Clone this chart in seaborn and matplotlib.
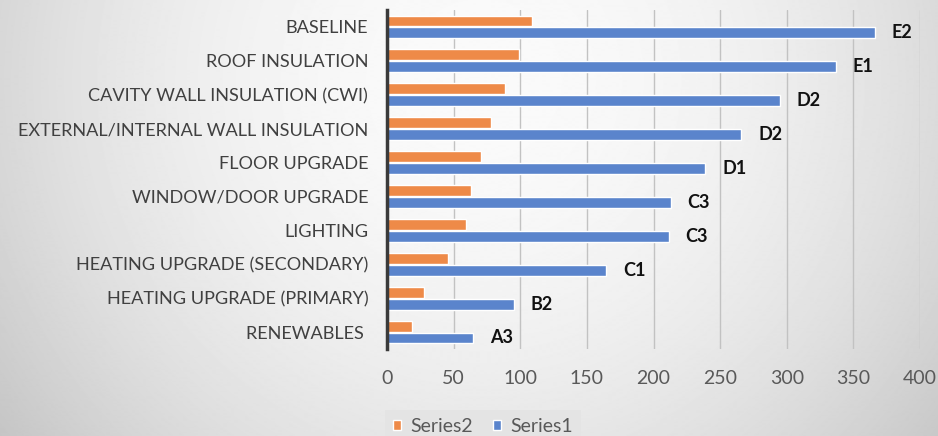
import numpy as np
import pandas as pd
import matplotlib
matplotlib.use("Agg")
import matplotlib.pyplot as plt
import seaborn as sns

# Retrofit measures (top to bottom) and their two series
categories = [
    "BASELINE",
    "ROOF INSULATION",
    "CAVITY WALL INSULATION (CWI)",
    "EXTERNAL/INTERNAL WALL INSULATION",
    "FLOOR UPGRADE",
    "WINDOW/DOOR UPGRADE",
    "LIGHTING",
    "HEATING UPGRADE (SECONDARY)",
    "HEATING UPGRADE (PRIMARY)",
    "RENEWABLES ",
]
series1 = [366, 337, 295, 266, 239, 213, 211.5, 164.5, 95, 64.6]
series2 = [108.7, 99.4, 88.7, 78.3, 70.8, 63, 59.6, 46, 28, 19]
ratings = ["E2", "E1", "D2", "D2", "D1", "C3", "C3", "C1", "B2", "A3"]
series_names = ["Series2", "Series1"]
x_ticks = [0, 50, 100, 150, 200, 250, 300, 350, 400]

df = pd.DataFrame({
    "measure": categories * 2,
    "value": series2 + series1,
    "series": [series_names[0]] * len(categories) + [series_names[1]] * len(categories),
})

sns.set_theme(style="white")
plt.rcParams["font.family"] = ["Lato", "DejaVu Sans"]

W, H = 938, 436
fig = plt.figure(figsize=(W / 100, H / 100), dpi=100)

# soft radial grey background
bg = fig.add_axes([0, 0, 1, 1], zorder=-10)
yy, xx = np.mgrid[0:H, 0:W]
d = np.hypot(xx - 480, yy - 80)
shade = 250 - 50 * np.clip(d / 580, 0, 1.2) ** 2
bg.imshow(shade, cmap="gray", vmin=0, vmax=255, aspect="auto",
          extent=[0, 1, 0, 1], interpolation="bilinear")
bg.axis("off")

ax = fig.add_axes([387 / W, 1 - 349 / H, (920 - 387) / W, (349 - 10) / H])
ax.patch.set_alpha(0)

sns.barplot(
    data=df, y="measure", x="value", hue="series",
    order=categories, hue_order=series_names, orient="h",
    palette=["#EE8A48", "#5A84CC"], width=0.7, gap=0.08,
    saturation=1, ax=ax,
)

# energy rating next to each Series1 bar
ax.bar_label(ax.containers[1], labels=ratings, padding=12,
             fontsize=13, fontweight="bold", color="#111111")

ax.set_xlim(0, 400)
ax.set_xticks(x_ticks)
ax.set_xlabel("")
ax.set_ylabel("")
ax.grid(axis="x", color="#c2c2c2", linewidth=1)
ax.grid(axis="y", visible=False)
ax.set_axisbelow(True)
for side in ["top", "right", "bottom"]:
    ax.spines[side].set_visible(False)
ax.spines["left"].set_color("#3a3a3a")
ax.spines["left"].set_linewidth(2.5)
ax.tick_params(axis="y", length=0, pad=13.5, labelsize=13.1, labelcolor="#404040")
ax.tick_params(axis="x", length=0, pad=15, labelsize=14, labelcolor="#595959")

handles, labels = ax.get_legend_handles_labels()
ax.get_legend().remove()
fig.legend(
    handles, labels, loc="center", bbox_to_anchor=(483 / W, 1 - 426 / H),
    ncol=2, frameon=True, fancybox=False, facecolor="#e4e4e4", edgecolor="none",
    framealpha=1, fontsize=14, labelcolor="#595959",
    handlelength=0.42, handleheight=0.42, handletextpad=0.5, columnspacing=1.0,
    borderpad=0.4,
)

fig.savefig("out.png", dpi=100)
